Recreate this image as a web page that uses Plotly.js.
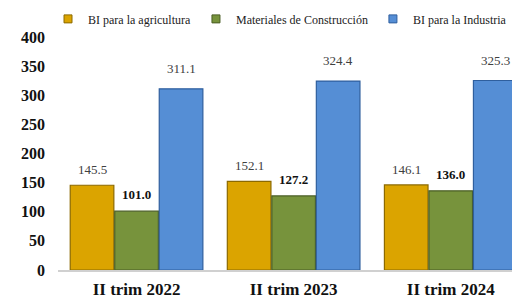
<!DOCTYPE html>
<html><head><meta charset="utf-8">
<script src="https://cdn.plot.ly/plotly-3.0.1.min.js"></script>
<style>html,body{margin:0;padding:0;background:#fff}#c{width:512px;height:299px}</style>
</head><body><div id="c"></div>
<script>
const categories = ['II trim 2022','II trim 2023','II trim 2024'];
const seriesNames = ['BI para la agricultura','Materiales de Construcción','BI para la Industria'];
const agricultura = [145.5, 152.1, 146.1];
const materiales = [101.0, 127.2, 136.0];
const industria = [311.1, 324.4, 325.3];
const yTicks = [0,50,100,150,200,250,300,350,400];

const FONT = 'Liberation Serif';
const colors = ['#DBA400','#77933C','#558ED5'];
const edges = ['#8C6A00','#4A5E24','#2F5F9E'];
const values = [agricultura, materiales, industria];

const traces = values.map((v,i)=>({
  type:'bar', name: seriesNames[i], x: categories, y: v,
  marker:{color: colors[i], line:{color: edges[i], width:1.2}},
  showlegend:false, hoverinfo:'skip'
}));
// legend-only entries with small square swatches
values.forEach((v,i)=>{
  traces.push({type:'scatter', mode:'markers', name: seriesNames[i], x:[null], y:[null],
    marker:{symbol:'square', size:8, color: colors[i], line:{color: edges[i], width:1}},
    showlegend:true, hoverinfo:'skip'});
});

const annotations = [];
const offsets = [-44.5, 0, 44.5];
const shifts = [6, 7, 11];
values.forEach((v,i)=>{
  v.forEach((val,j)=>{
    annotations.push({
      x: categories[j], y: val, xref:'x', yref:'y',
      text: val.toFixed(1), showarrow:false, yanchor:'bottom',
      xshift: offsets[i], yshift: shifts[i],
      font:{family:FONT, size:13, color: i===1 ? '#111111' : '#404040',
            weight: i===1 ? 'bold' : 'normal'}
    });
  });
});

const layout = {
  width:512, height:299,
  font:{family:FONT},
  margin:{l:58, r:0, t:37, b:29},
  paper_bgcolor:'#fff', plot_bgcolor:'#fff',
  barmode:'group', bargap:0.15, bargroupgap:0.02,
  showlegend:true,
  legend:{orientation:'h', x:-0.016, xanchor:'left', y:1.14, yanchor:'top',
          font:{family:FONT, size:12, color:'#222'}, itemwidth:30,
          tracegroupgap:0, bgcolor:'rgba(0,0,0,0)'},
  xaxis:{type:'category', range:[-0.5, 2.39], showgrid:false, zeroline:false,
         showline:true, linecolor:'#D0D0D0', linewidth:1.5,
         ticks:'', tickfont:{family:FONT, size:17, color:'#111', weight:'bold'},
         ticklabelstandoff:3},
  yaxis:{range:[0,400], tickvals:yTicks, ticktext:yTicks.map(String), showgrid:false, zeroline:false,
         showline:false, ticks:'', tickfont:{family:FONT, size:16, color:'#111', weight:'bold'},
         ticklabelstandoff:12},
  annotations: annotations
};
Plotly.newPlot('c', traces, layout, {staticPlot:true, displayModeBar:false});
</script></body></html>
